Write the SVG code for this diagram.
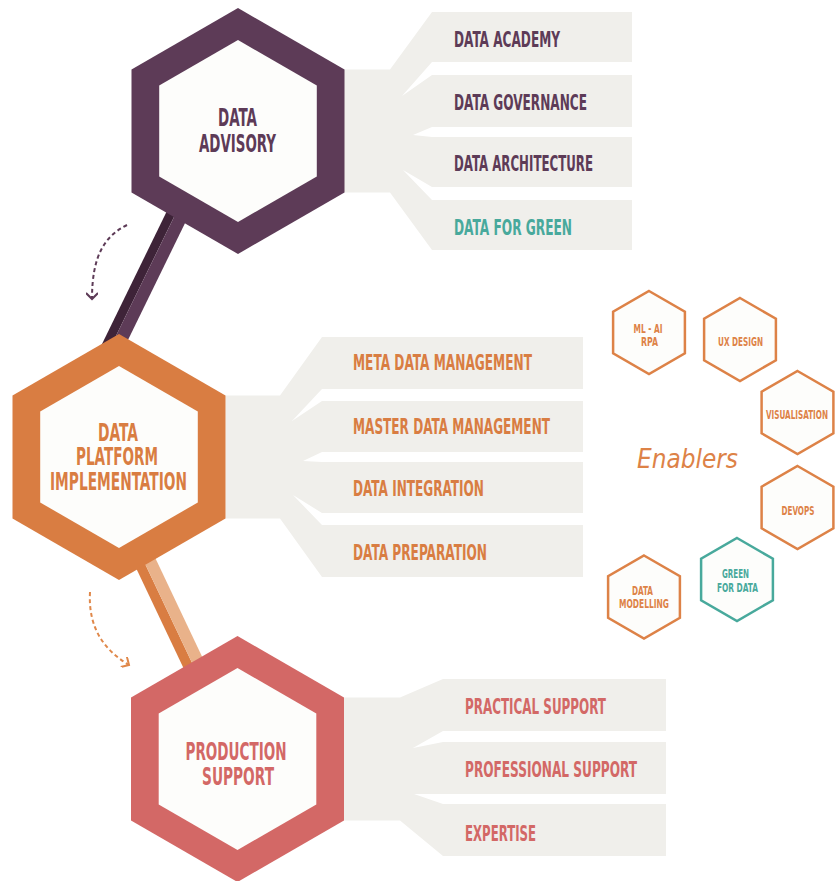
<svg xmlns="http://www.w3.org/2000/svg" width="836" height="881" viewBox="0 0 836 881">
<style>
.lbl{font-family:"Liberation Sans Narrow","DejaVu Sans Condensed","Liberation Sans",sans-serif;font-weight:bold}
.tab{font-size:22px}
.big{font-size:24px;text-anchor:middle}
.sm{font-size:12.5px;text-anchor:middle}
.tabs{fill:#f0efeb}
.inner{fill:#fdfdfb}
.pur{fill:#5d3b57}
.ora{fill:#d97d42}
.cor{fill:#d36866}
.teal{fill:#48a99c}
.eo{fill:#dd8247}
.ehex{fill:#fdfdfb;stroke:#dd8247;stroke-width:2.5}
.ehex.g{stroke:#48a99c}
.dash{fill:none;stroke-width:2;stroke-dasharray:4 3}
</style>
<defs>
<polygon id="hexO" points="0,-123 106.5,-61.5 106.5,61.5 0,123 -106.5,61.5 -106.5,-61.5"/>
<polygon id="hexI" points="0,-91 78.8,-45.5 78.8,45.5 0,91 -78.8,45.5 -78.8,-45.5"/>
<polygon id="hexS" points="0,-41.5 35.9,-20.75 35.9,20.75 0,41.5 -35.9,20.75 -35.9,-20.75"/>
<marker id="chevP" viewBox="0 0 12 12" refX="9" refY="6" markerWidth="12" markerHeight="12" markerUnits="userSpaceOnUse" orient="auto">
<path d="M3,0 L9,6 L3,12" fill="none" stroke="#5d3b57" stroke-width="2"/>
</marker>
<marker id="chevO" viewBox="0 0 12 12" refX="9" refY="6" markerWidth="12" markerHeight="12" markerUnits="userSpaceOnUse" orient="auto">
<path d="M3,0 L9,6 L3,12" fill="none" stroke="#e0884a" stroke-width="2"/>
</marker>
</defs>
<rect width="836" height="881" fill="#ffffff"/>

<g id="connectors">
<polygon points="172.3,200 182.3,200 109.1,350 99.1,350" fill="#3e2338"/>
<polygon points="182.3,200 196.3,200 123.1,350 109.1,350" fill="#5d3b57"/>
<polygon points="127.5,550 138.5,550 204.9,690 193.9,690" fill="#d97d42"/>
<polygon points="138.5,550 151.5,550 217.9,690 204.9,690" fill="#e9b28a"/>
<path class="dash" d="M127,225 C105,236 92,255 92,299" stroke="#5d3b57" marker-end="url(#chevP)"/>
<path class="dash" d="M90,592 C88,628 104,650 129,665" stroke="#e0884a" marker-end="url(#chevO)"/>
</g>

<g id="advisory-tabs">
<path class="tabs" d="M344,69.5 L390,69.5 L432,12 L632,12 L632,62 L432,62 L402,96 L432,75 L632,75 L632,127 L432,127 L413,135 L432,137 L632,137 L632,187 L432,187 L403,170 L432,200 L632,200 L632,250 L432,250 L390,192.5 L344,192.5 Z"/>
<text class="lbl tab pur" x="454" y="47" textLength="106" lengthAdjust="spacingAndGlyphs">DATA ACADEMY</text>
<text class="lbl tab pur" x="454" y="110" textLength="133" lengthAdjust="spacingAndGlyphs">DATA GOVERNANCE</text>
<text class="lbl tab pur" x="454" y="171" textLength="139" lengthAdjust="spacingAndGlyphs">DATA ARCHITECTURE</text>
<text class="lbl tab teal" x="454" y="235" textLength="118" lengthAdjust="spacingAndGlyphs">DATA FOR GREEN</text>
</g>

<g id="platform-tabs">
<path class="tabs" d="M225.5,395.5 L280,395.5 L322,337 L583,337 L583,389 L322,389 L292,421 L322,401 L583,401 L583,452 L322,452 L303,461 L322,462 L583,462 L583,513 L322,513 L293,495 L322,525 L583,525 L583,577 L322,577 L280,518.5 L225.5,518.5 Z"/>
<text class="lbl tab ora" x="353" y="370" textLength="179" lengthAdjust="spacingAndGlyphs">META DATA MANAGEMENT</text>
<text class="lbl tab ora" x="353" y="434" textLength="197" lengthAdjust="spacingAndGlyphs">MASTER DATA MANAGEMENT</text>
<text class="lbl tab ora" x="353" y="496" textLength="131" lengthAdjust="spacingAndGlyphs">DATA INTEGRATION</text>
<text class="lbl tab ora" x="353" y="560" textLength="134" lengthAdjust="spacingAndGlyphs">DATA PREPARATION</text>
</g>

<g id="support-tabs">
<path class="tabs" d="M344,697.5 L400,697.5 L443,679 L666,679 L666,731 L443,731 L413,748 L443,742 L666,742 L666,794 L443,794 L414,794 L443,804 L666,804 L666,856 L443,856 L400,820.5 L344,820.5 Z"/>
<text class="lbl tab cor" x="465" y="714" textLength="141" lengthAdjust="spacingAndGlyphs">PRACTICAL SUPPORT</text>
<text class="lbl tab cor" x="465" y="777" textLength="172" lengthAdjust="spacingAndGlyphs">PROFESSIONAL SUPPORT</text>
<text class="lbl tab cor" x="465" y="841" textLength="71" lengthAdjust="spacingAndGlyphs">EXPERTISE</text>
</g>

<g id="data-advisory">
<use href="#hexO" x="238" y="131" fill="#5d3b57"/>
<use href="#hexI" x="238" y="131" class="inner"/>
<text class="lbl big pur" x="237.5" y="126" textLength="39" lengthAdjust="spacingAndGlyphs">DATA</text>
<text class="lbl big pur" x="237.5" y="152" textLength="77" lengthAdjust="spacingAndGlyphs">ADVISORY</text>
</g>

<g id="data-platform">
<use href="#hexO" x="119" y="457" fill="#d97d42"/>
<use href="#hexI" x="119" y="457" class="inner"/>
<text class="lbl big ora" x="118" y="441" textLength="40" lengthAdjust="spacingAndGlyphs">DATA</text>
<text class="lbl big ora" x="117" y="465" textLength="82" lengthAdjust="spacingAndGlyphs">PLATFORM</text>
<text class="lbl big ora" x="118.5" y="490" textLength="137" lengthAdjust="spacingAndGlyphs">IMPLEMENTATION</text>
</g>

<g id="production-support">
<use href="#hexO" x="237.5" y="759" fill="#d36866"/>
<use href="#hexI" x="237.5" y="759" class="inner"/>
<text class="lbl big cor" x="236" y="760" textLength="101" lengthAdjust="spacingAndGlyphs">PRODUCTION</text>
<text class="lbl big cor" x="238" y="785" textLength="72" lengthAdjust="spacingAndGlyphs">SUPPORT</text>
</g>

<g id="enablers-title">
<text x="637" y="468" textLength="101" lengthAdjust="spacingAndGlyphs" font-family="'DejaVu Sans','Liberation Sans',sans-serif" font-style="italic" font-weight="200" font-size="26" fill="#dd8247">Enablers</text>
</g>

<g id="enabler-ml-ai">
<use href="#hexS" x="649" y="332.5" class="ehex"/>
<text class="lbl sm eo" x="648" y="333" textLength="29" lengthAdjust="spacingAndGlyphs">ML - AI</text>
<text class="lbl sm eo" x="649.5" y="346" textLength="17" lengthAdjust="spacingAndGlyphs">RPA</text>
</g>
<g id="enabler-ux">
<use href="#hexS" x="740" y="339.5" class="ehex"/>
<text class="lbl sm eo" x="740.5" y="346" textLength="45" lengthAdjust="spacingAndGlyphs">UX DESIGN</text>
</g>
<g id="enabler-visualisation">
<use href="#hexS" x="797.5" y="412.5" class="ehex"/>
<text class="lbl sm eo" x="797" y="419" textLength="62" lengthAdjust="spacingAndGlyphs">VISUALISATION</text>
</g>
<g id="enabler-devops">
<use href="#hexS" x="797.5" y="507.5" class="ehex"/>
<text class="lbl sm eo" x="798" y="515" textLength="33" lengthAdjust="spacingAndGlyphs">DEVOPS</text>
</g>
<g id="enabler-green">
<use href="#hexS" x="737" y="579.5" class="ehex g"/>
<text class="lbl sm teal" x="735.5" y="578" textLength="27" lengthAdjust="spacingAndGlyphs">GREEN</text>
<text class="lbl sm teal" x="737.5" y="592" textLength="41" lengthAdjust="spacingAndGlyphs">FOR DATA</text>
</g>
<g id="enabler-modelling">
<use href="#hexS" x="644" y="597" class="ehex"/>
<text class="lbl sm eo" x="642.5" y="595" textLength="21" lengthAdjust="spacingAndGlyphs">DATA</text>
<text class="lbl sm eo" x="644" y="608" textLength="50" lengthAdjust="spacingAndGlyphs">MODELLING</text>
</g>
</svg>
